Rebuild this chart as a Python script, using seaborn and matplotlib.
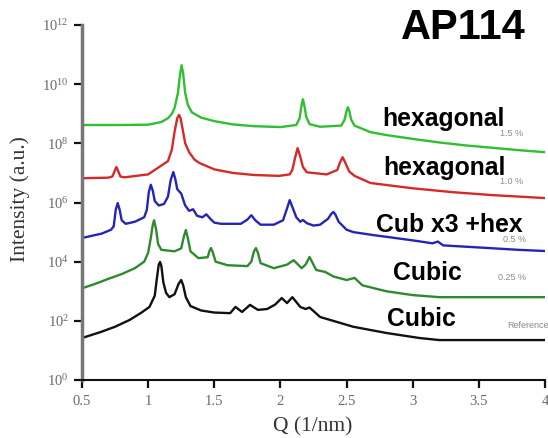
import numpy as np
import pandas as pd
import matplotlib
matplotlib.use("Agg")
import matplotlib.pyplot as plt
import seaborn as sns

# ---------------- data (Q in 1/nm, log10 of intensity) ----------------
q_15 = [0.5, 0.8, 1.0, 1.1, 1.15, 1.18, 1.2, 1.225, 1.24, 1.253, 1.265, 1.28, 1.3, 1.33, 1.4,
        1.5, 1.64, 1.8, 2.0, 2.12, 2.145, 2.16, 2.17, 2.18, 2.195, 2.22, 2.3, 2.46, 2.485, 2.5,
        2.51, 2.52, 2.535, 2.56, 2.68, 2.8, 3.0, 3.2, 3.4, 3.6, 3.8, 4.0]
log_15 = [8.62, 8.62, 8.63, 8.72, 8.85, 9.0, 9.2, 9.7, 10.3, 10.64, 10.35, 9.7, 9.3, 9.05, 8.87,
          8.75, 8.64, 8.58, 8.55, 8.62, 8.85, 9.3, 9.49, 9.3, 8.9, 8.65, 8.56, 8.6, 8.8, 9.1,
          9.22, 9.1, 8.8, 8.6, 8.38, 8.28, 8.15, 8.03, 7.93, 7.85, 7.77, 7.7]

q_10 = [0.5, 0.7, 0.73, 0.75, 0.76, 0.77, 0.79, 0.82, 1.0, 1.05, 1.15, 1.18, 1.2, 1.22, 1.233,
        1.245, 1.26, 1.28, 1.31, 1.35, 1.39, 1.5, 1.64, 1.8, 1.99, 2.07, 2.09, 2.11, 2.13, 2.15,
        2.17, 2.2, 2.35, 2.43, 2.45, 2.47, 2.49, 2.52, 2.56, 2.68, 3.0, 3.3, 3.6, 4.0]
log_10 = [6.82, 6.84, 6.88, 7.1, 7.2, 7.1, 6.88, 6.85, 6.95, 7.1, 7.4, 7.8, 8.4, 8.85, 8.96,
          8.85, 8.5, 8.0, 7.7, 7.45, 7.33, 7.12, 7.0, 6.93, 6.9, 6.95, 7.1, 7.5, 7.84, 7.55,
          7.2, 7.02, 6.95, 7.1, 7.35, 7.53, 7.35, 7.05, 6.9, 6.66, 6.48, 6.35, 6.25, 6.15]

q_05 = [0.5, 0.65, 0.72, 0.74, 0.755, 0.77, 0.785, 0.8, 0.83, 0.9, 0.97, 0.99, 1.005, 1.02,
        1.035, 1.05, 1.08, 1.12, 1.15, 1.17, 1.19, 1.205, 1.22, 1.25, 1.28, 1.31, 1.34, 1.37,
        1.41, 1.44, 1.47, 1.5, 1.55, 1.7, 1.75, 1.78, 1.81, 1.85, 1.95, 2.02, 2.05, 2.07, 2.09,
        2.12, 2.15, 2.17, 2.2, 2.25, 2.3, 2.36, 2.385, 2.4, 2.415, 2.44, 2.5, 2.55, 2.7, 3.0,
        3.15, 3.19, 3.23, 3.5, 3.8, 4.0]
log_05 = [4.8, 4.95, 5.08, 5.2, 5.75, 5.98, 5.75, 5.4, 5.28, 5.35, 5.5, 5.75, 6.35, 6.6,
          6.4, 6.05, 5.9, 5.95, 6.2, 6.75, 7.03, 6.8, 6.45, 6.3, 5.9, 5.72, 5.77, 5.55,
          5.5, 5.6, 5.45, 5.32, 5.28, 5.28, 5.42, 5.57, 5.4, 5.25, 5.25, 5.4, 5.8, 6.08, 5.85,
          5.5, 5.35, 5.41, 5.3, 5.22, 5.25, 5.45, 5.62, 5.68, 5.6, 5.35, 5.08, 5.0, 4.9, 4.72,
          4.62, 4.68, 4.55, 4.48, 4.4, 4.36]

q_025 = [0.5, 0.6, 0.7, 0.8, 0.9, 0.97, 1.0, 1.02, 1.035, 1.045, 1.06, 1.075, 1.1, 1.2, 1.25,
         1.27, 1.285, 1.3, 1.32, 1.38, 1.45, 1.465, 1.475, 1.49, 1.51, 1.6, 1.75, 1.78, 1.8,
         1.815, 1.83, 1.85, 1.95, 2.05, 2.1, 2.16, 2.19, 2.22, 2.27, 2.34, 2.4, 2.5, 2.56, 2.62,
         2.8, 3.0, 3.2, 3.6, 4.0]
log_025 = [3.1, 3.25, 3.42, 3.58, 3.78, 4.0, 4.3, 4.8, 5.25, 5.4, 5.1, 4.6, 4.4, 4.35, 4.45,
           4.85, 5.07, 4.8, 4.35, 4.12, 4.15, 4.38, 4.46, 4.3, 4.0, 3.88, 3.85, 4.0, 4.35,
           4.46, 4.3, 3.95, 3.78, 3.9, 4.05, 3.78, 3.9, 4.16, 3.72, 3.65, 3.5, 3.38, 3.45, 3.2,
           3.0, 2.87, 2.8, 2.8, 2.8]

q_ref = [0.5, 0.64, 0.75, 0.86, 0.95, 1.01, 1.05, 1.065, 1.08, 1.09, 1.1, 1.115, 1.135, 1.16,
         1.2, 1.23, 1.25, 1.265, 1.285, 1.32, 1.4, 1.5, 1.62, 1.66, 1.71, 1.77, 1.83, 1.9, 1.96,
         2.01, 2.05, 2.09, 2.15, 2.19, 2.22, 2.3, 2.55, 2.8, 3.05, 3.2, 3.6, 4.0]
log_ref = [1.42, 1.62, 1.8, 2.03, 2.28, 2.47, 2.85, 3.4, 3.9, 3.99, 3.85, 3.3, 2.95, 2.8,
           2.9, 3.25, 3.38, 3.2, 2.8, 2.5, 2.35, 2.28, 2.26, 2.47, 2.3, 2.54, 2.37, 2.4, 2.55,
           2.77, 2.6, 2.8, 2.47, 2.4, 2.45, 2.13, 1.8, 1.59, 1.42, 1.35, 1.35, 1.35]

series_names = ["1.5 %", "1.0 %", "0.5 %", "0.25 %", "Reference"]
phase_labels = ["hexagonal", "hexagonal", "Cub x3 +hex", "Cubic", "Cubic"]
x_ticks = [0.5, 1, 1.5, 2, 2.5, 3, 3.5, 4]
x_ticklabels = ["0.5", "1", "1.5", "2", "2.5", "3", "3.5", "4"]
y_ticks = [1e0, 1e2, 1e4, 1e6, 1e8, 1e10, 1e12]
y_ticklabels = [r"$10^{0}$", r"$10^{2}$", r"$10^{4}$", r"$10^{6}$", r"$10^{8}$",
                r"$10^{10}$", r"$10^{12}$"]
title_text = "AP114"

# ---------------- styling ----------------
sns.set_style("ticks")
plt.rcParams["font.family"] = ["Liberation Serif", "DejaVu Serif"]
plt.rcParams["mathtext.fontset"] = "custom"
plt.rcParams["mathtext.rm"] = "Liberation Serif"
plt.rcParams["mathtext.it"] = "Liberation Serif:italic"

W, H = 548, 438
fig = plt.figure(figsize=(W / 100, H / 100), dpi=100)
ax = fig.add_axes([82 / W, 1 - 380 / H, (545 - 82) / W, (380 - 25) / H])

colors = ["#2fbf2f", "#d42a2a", "#2525b5", "#2f8a2f", "#111111"]
qs = [q_15, q_10, q_05, q_025, q_ref]
logs = [log_15, log_10, log_05, log_025, log_ref]

frames = []
for name, q, lg in zip(series_names, qs, logs):
    frames.append(pd.DataFrame({"Q": q, "I": 10.0 ** np.asarray(lg), "sample": name}))
df = pd.concat(frames, ignore_index=True)

for name, c in zip(series_names, colors):
    sns.lineplot(data=df[df["sample"] == name], x="Q", y="I", color=c, lw=1.7,
                 estimator=None, sort=False, ax=ax, legend=False)

ax.set_yscale("log")
ax.set_xlim(0.5, 4)
ax.set_ylim(1e0, 1e12)
ax.set_xticks(x_ticks, x_ticklabels)
ax.set_yticks(y_ticks, y_ticklabels)
ax.minorticks_off()
ax.tick_params(axis="both", which="major", direction="out", length=6, width=1.6,
               color="#111111", labelsize=10.5, labelcolor="#6a6a6a",
               bottom=True, left=True, top=False, right=False)
ax.tick_params(axis="x", pad=5)
for s in ["top", "right"]:
    ax.spines[s].set_visible(False)
ax.spines["left"].set_color("#777777")
ax.spines["left"].set_linewidth(2.5)
ax.spines["bottom"].set_color("#111111")
ax.spines["bottom"].set_linewidth(1.5)

ax.set_xlabel("Q (1/nm)", fontsize=15.5, color="#333333")
ax.set_ylabel("Intensity (a.u.)", fontsize=15.5, color="#333333")
ax.xaxis.set_label_coords((313 - 82) / (545 - 82), -(417 - 380) / (380 - 25))
ax.yaxis.set_label_coords(-(82 - 30) / (545 - 82), (380 - 199) / (380 - 25))

def ftext(x, y, s, **kw):
    fig.text(x / W, 1 - y / H, s, **kw)

ftext(401, 28, title_text, fontsize=30, fontweight="bold", family="Liberation Sans",
      color="black", va="center", ha="left")

phase_pos = [(382, 119), (383, 167.5), (376, 225), (393, 272.5), (387, 319)]
for (px, py), lab in zip(phase_pos, phase_labels):
    ftext(px, py, lab, fontsize=17.8, fontweight="bold", family="Liberation Sans",
          color="black", va="center", ha="left")

small_pos = [(500, 133), (500, 181), (503, 240), (498, 278), (507, 326)]
for (px, py), lab in zip(small_pos, series_names):
    ftext(px, py, lab, fontsize=6.5, family="Liberation Sans", color="#8a8a8a",
          va="center", ha="left")

fig.savefig("out.png", dpi=100)
